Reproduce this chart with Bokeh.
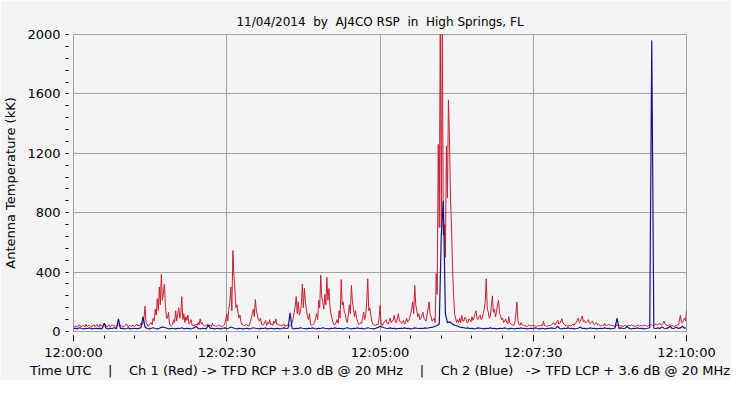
import numpy as np
from bokeh.plotting import figure
from bokeh.models import FixedTicker
from bokeh.embed import file_html
from bokeh.resources import INLINE

# ---- data: antenna temperature in kK from 12:00:00 UTC ----
# Ch 1 (red), one sample per second
red = [
    35, 28, 40, 32, 30, 42, 45, 30, 35, 38, 40, 30, 50, 36, 35, 42, 40, 33, 30, 44,
    45, 32, 40, 48, 35, 30, 50, 38, 40, 35, 45, 50, 35, 30, 40, 45, 30, 36, 45, 38,
    40, 30, 35, 42, 45, 34, 40, 38, 35, 30, 40, 46, 50, 35, 35, 40, 40, 32, 45, 38,
    35, 42, 50, 36, 45, 40, 55, 45, 60, 90, 170, 60, 50, 35, 40, 55, 60, 45, 90, 70,
    150, 110, 220, 140, 300, 180, 385, 210, 260, 320, 170, 90, 90, 130, 50, 40, 40, 45, 80, 60,
    140, 70, 120, 160, 90, 120, 235, 80, 120, 60, 100, 75, 110, 50, 60, 80, 45, 38, 40, 45,
    50, 40, 60, 45, 85, 50, 60, 42, 40, 35, 40, 48, 35, 40, 45, 32, 55, 40, 40, 36,
    35, 40, 45, 38, 40, 30, 35, 42, 50, 80, 120, 70, 150, 200, 300, 140, 545, 380, 280, 160,
    180, 130, 90, 110, 60, 45, 45, 38, 40, 50, 45, 36, 40, 60, 90, 120, 150, 100, 215, 140,
    110, 80, 70, 90, 50, 42, 45, 60, 75, 40, 60, 50, 80, 45, 50, 40, 70, 55, 85, 48,
    50, 40, 45, 38, 40, 45, 50, 35, 40, 42, 45, 36, 40, 48, 60, 90, 130, 170, 235, 120,
    200, 110, 130, 180, 320, 160, 290, 200, 150, 100, 80, 120, 50, 40, 45, 50, 60, 90, 120, 80,
    210, 160, 380, 230, 200, 150, 250, 180, 365, 210, 290, 170, 120, 90, 60, 45, 50, 60, 80, 55,
    140, 90, 350, 180, 200, 130, 120, 80, 60, 110, 180, 120, 310, 200, 160, 100, 140, 90, 70, 50,
    50, 60, 55, 90, 130, 80, 110, 200, 355, 140, 160, 110, 70, 50, 45, 40, 40, 50, 45, 80,
    175, 60, 40, 50, 60, 70, 80, 55, 50, 70, 90, 60, 70, 80, 110, 65, 60, 90, 120, 70,
    70, 55, 60, 75, 50, 60, 90, 65, 70, 90, 120, 150, 200, 120, 310, 180, 140, 100, 120, 80,
    90, 110, 130, 90, 80, 70, 110, 150, 200, 120, 100, 70, 80, 90, 60, 390, 250, 1260, 700, 2100,
    700, 2100, 650, 720, 500, 1250, 900, 1560, 1300, 900, 700, 430, 250, 120, 90, 60, 80, 60, 90, 60,
    110, 70, 70, 95, 90, 60, 60, 85, 80, 65, 100, 75, 90, 120, 140, 85, 80, 100, 110, 80,
    90, 120, 150, 200, 355, 150, 130, 90, 100, 170, 240, 130, 150, 100, 130, 180, 210, 120, 110, 80,
    90, 60, 70, 85, 60, 50, 100, 60, 50, 45, 45, 40, 60, 120, 200, 70, 50, 40, 60, 45,
    45, 38, 40, 34, 35, 40, 45, 36, 40, 42, 35, 38, 40, 32, 35, 40, 40, 36, 45, 38,
    70, 40, 40, 35, 35, 42, 40, 38, 45, 55, 60, 45, 50, 65, 75, 50, 55, 70, 86, 60,
    50, 42, 40, 38, 35, 40, 40, 36, 45, 50, 40, 55, 60, 75, 90, 60, 70, 85, 105, 65,
    75, 60, 60, 70, 80, 55, 55, 65, 70, 50, 45, 55, 60, 45, 50, 40, 40, 38, 45, 40,
    55, 40, 40, 45, 50, 38, 45, 40, 40, 36, 35, 40, 40, 45, 45, 38, 40, 34, 35, 40,
    40, 36, 35, 42, 40, 38, 45, 40, 40, 35, 35, 38, 40, 44, 35, 40, 40, 36, 45, 40,
    40, 38, 35, 40, 40, 45, 45, 40, 40, 48, 50, 42, 45, 50, 55, 45, 45, 55, 70, 50,
    45, 40, 40, 44, 45, 38, 40, 36, 35, 40, 40, 45, 45, 70, 110, 60, 60, 75, 90, 70,
    140,
]

# Ch 2 (blue), one sample every two seconds
blue = [
    20, 22, 18, 25, 20, 18, 22, 20, 24, 18,
    20, 22, 19, 21, 20, 55, 20, 18, 22, 20,
    25, 18, 85, 20, 22, 18, 20, 24, 18, 20,
    22, 19, 21, 25, 100, 30, 20, 18, 22, 25,
    20, 18, 22, 28, 30, 25, 20, 18, 22, 20,
    18, 22, 20, 25, 18, 20, 22, 18, 20, 24,
    35, 20, 18, 22, 20, 18, 45, 20, 22, 18,
    20, 22, 18, 20, 24, 20, 22, 30, 25, 20,
    18, 22, 20, 18, 20, 22, 18, 20, 25, 22,
    20, 18, 22, 20, 24, 18, 20, 22, 18, 20,
    22, 18, 20, 24, 20, 22, 125, 20, 18, 22,
    20, 25, 22, 20, 18, 22, 20, 24, 20, 18,
    22, 20, 25, 22, 20, 18, 22, 20, 24, 20,
    22, 20, 18, 22, 25, 20, 18, 22, 20, 24,
    20, 22, 18, 20, 25, 22, 20, 18, 22, 28,
    35, 30, 25, 22, 20, 24, 20, 22, 18, 20,
    22, 20, 24, 20, 22, 18, 20, 24, 22, 20,
    22, 20, 24, 22, 25, 28, 30, 35, 40, 50,
    650, 880, 120, 60, 65, 55, 45, 40, 35, 30,
    28, 25, 22, 24, 20, 22, 18, 20, 24, 22,
    20, 18, 22, 20, 24, 20, 22, 18, 20, 22,
    20, 24, 20, 18, 22, 20, 18, 22, 20, 24,
    20, 22, 18, 20, 22, 20, 24, 20, 18, 22,
    20, 18, 22, 20, 24, 20, 22, 35, 20, 18,
    22, 20, 24, 20, 22, 18, 20, 22, 30, 20,
    22, 18, 20, 24, 20, 22, 18, 20, 22, 20,
    24, 20, 22, 18, 20, 22, 90, 20, 24, 20,
    22, 35, 20, 18, 22, 20, 24, 20, 22, 18,
    20, 22, 25, 1960, 22, 20, 24, 20, 30, 22,
    20, 24, 35, 20, 22, 30, 20, 24, 35, 22,
    25,
]

red_step = 1   # seconds
blue_step = 2  # seconds
x_tick_vals = [0, 150, 300, 450, 600]
x_tick_labels = ["12:00:00", "12:02:30", "12:05:00", "12:07:30", "12:10:00"]
y_tick_vals = [0, 400, 800, 1200, 1600, 2000]

NB = "\u00a0"
title_text = f"11/04/2014{NB} by{NB} AJ4CO RSP{NB} in{NB} High Springs, FL"
x_label = (f"Time UTC{NB*3} |{NB*3} Ch 1 (Red) -> TFD RCP +3.0 dB @ 20 MHz"
           f"{NB*3} |{NB*3} Ch 2 (Blue){NB*2} -> TFD LCP + 3.6 dB @ 20 MHz")
y_label = "Antenna Temperature (kK)"

FONT = "DejaVu Sans"
BG = "#F4F4F6"
GRID = "#A0A0A0"

t_red = np.arange(len(red)) * red_step
t_blue = np.arange(len(blue)) * blue_step

p = figure(width=731, height=380, output_backend="svg", toolbar_location=None,
           x_range=(0, 600), y_range=(0, 2000),
           min_border_left=73, min_border_right=45, min_border_top=34, min_border_bottom=46)

p.background_fill_color = BG
p.border_fill_color = BG
p.outline_line_color = GRID
p.outline_line_width = 1

p.title.text = title_text
p.title.align = "center"
p.title.text_font = FONT
p.title.text_font_size = "12px"
p.title.text_font_style = "normal"
p.title.text_color = "black"
p.title.standoff = 12

p.line(t_red, red, line_color="#C81E32", line_width=1)
p.line(t_blue, blue, line_color="#141482", line_width=1.2)

xt = FixedTicker(ticks=x_tick_vals, minor_ticks=list(range(0, 601, 30)))
yt = FixedTicker(ticks=y_tick_vals, minor_ticks=list(range(0, 2001, 80)))
p.xaxis.ticker = xt
p.yaxis.ticker = yt
p.xgrid.ticker = xt
p.ygrid.ticker = yt
p.xaxis.major_label_overrides = dict(zip(x_tick_vals, x_tick_labels))

for ax in (p.xaxis[0], p.yaxis[0]):
    ax.axis_line_color = None
    ax.major_tick_line_color = "black"
    ax.minor_tick_line_color = "black"
    ax.major_label_text_font = FONT
    ax.major_label_text_font_size = "13px"
    ax.major_label_text_color = "black"
    ax.axis_label_text_font = FONT
    ax.axis_label_text_font_size = "13px"
    ax.axis_label_text_font_style = "normal"
    ax.axis_label_text_color = "black"

p.xaxis.major_tick_in = -4
p.xaxis.major_tick_out = 10
p.xaxis.minor_tick_in = -4
p.xaxis.minor_tick_out = 7
p.xaxis.major_label_standoff = 3
p.xaxis.axis_label = x_label
p.xaxis.axis_label_standoff = 0

p.yaxis.major_tick_in = -5
p.yaxis.major_tick_out = 7
p.yaxis.minor_tick_in = -5
p.yaxis.minor_tick_out = 8
p.yaxis.major_label_standoff = 5
p.yaxis.axis_label = y_label
p.yaxis.axis_label_standoff = 6

for g in (p.xgrid[0], p.ygrid[0]):
    g.grid_line_color = GRID
    g.grid_line_width = 1

open("out.html", "w").write(file_html(p, INLINE))
